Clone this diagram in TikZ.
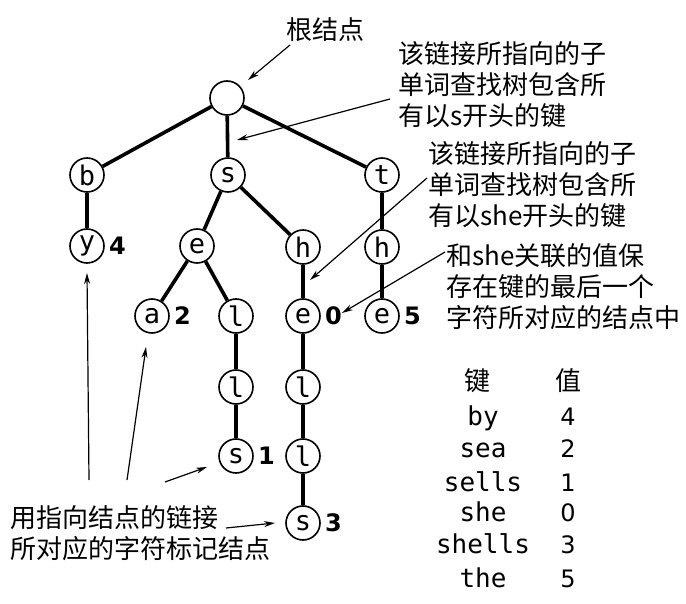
\documentclass[tikz,border=0pt]{standalone}
\usepackage{fontspec}
\setsansfont{DejaVu Sans}
\setmonofont{DejaVu Sans Mono}
\newfontfamily\cjk{Noto Sans CJK SC}
\usetikzlibrary{arrows.meta, positioning}

\begin{document}
\begin{tikzpicture}[
    x=0.5pt, y=-0.5pt,
    chr/.style={draw, circle, line width=0.8pt, fill=white, minimum size=17pt,
                inner sep=0pt, font=\ttfamily\fontsize{13.5}{13.5}\selectfont},
    num/.style={inner sep=0pt, font=\sffamily\bfseries\fontsize{12}{12}\selectfont},
    link/.style={line width=1.8pt},
    note/.style={inner sep=0pt, align=left, font=\cjk\fontsize{13}{15.5}\selectfont},
    arr/.style={-{Stealth[length=5.5pt, width=3pt]}, line width=0.6pt},
    hdr/.style={anchor=base, inner sep=0pt, font=\cjk\fontsize{13}{13}\selectfont},
    key/.style={anchor=base, inner sep=0pt, font=\ttfamily\fontsize{13}{13}\selectfont},
    val/.style={anchor=base, inner sep=0pt, font=\sffamily\fontsize{12}{12}\selectfont}
]
    \useasboundingbox (0,0) rectangle (686,604);

    % trie nodes
    \node[chr] (root)   at (227,98)  {};
    \node[chr] (b)      at (87,175)  {b};
    \node[chr] (s)      at (228,175) {s};
    \node[chr] (t)      at (382,175) {t};
    \node[chr] (by)     at (87,246)  {y};
    \node[chr] (se)     at (197,246) {e};
    \node[chr] (sh)     at (303,247) {h};
    \node[chr] (th)     at (382,247) {h};
    \node[chr] (sea)    at (152,316) {a};
    \node[chr] (sel)    at (236,316) {l};
    \node[chr] (she)    at (303,316) {e};
    \node[chr] (the)    at (382,316) {e};
    \node[chr] (sell)   at (236,387) {l};
    \node[chr] (shel)   at (303,387) {l};
    \node[chr] (sells)  at (236,456) {s};
    \node[chr] (shell)  at (303,456) {l};
    \node[chr] (shells) at (303,523) {s};

    % values stored in the nodes
    \node[num, right=2pt of by]     (val-by)     {4};
    \node[num, right=2pt of sea]    (val-sea)    {2};
    \node[num, right=2pt of sells]  (val-sells)  {1};
    \node[num, right=2pt of she]    (val-she)    {0};
    \node[num, right=2pt of shells] (val-shells) {3};
    \node[num, right=2pt of the]    (val-the)    {5};

    % links
    \draw[link] (root) -- (b);
    \draw[link] (root) -- (s);
    \draw[link] (root) -- (t);
    \draw[link] (b)    -- (by);
    \draw[link] (s)    -- (se);
    \draw[link] (s)    -- (sh);
    \draw[link] (t)    -- (th);
    \draw[link] (se)   -- (sea);
    \draw[link] (se)   -- (sel);
    \draw[link] (sh)   -- (she);
    \draw[link] (th)   -- (the);
    \draw[link] (sel)  -- (sell);
    \draw[link] (she)  -- (shel);
    \draw[link] (sell) -- (sells);
    \draw[link] (shel) -- (shell);
    \draw[link] (shell) -- (shells);

    % annotations
    \node[note] (n-root) at (325,30) {根结点};
    \node[note, anchor=north west] (n-s)   at (398,41)  {该链接所指向的子\\单词查找树包含所\\有以s开头的键};
    \node[note, anchor=north west] (n-she) at (428,141) {该链接所指向的子\\单词查找树包含所\\有以she开头的键};
    \node[note, anchor=north west] (n-val) at (446,243) {和she关联的值保\\存在键的最后一个\\字符所对应的结点中};
    \node[note, anchor=north west] (n-chr) at (10,505)  {用指向结点的链接\\所对应的字符标记结点};

    \coordinate (a1s) at (290,45);  \coordinate (a1e) at (248,80);
    \coordinate (a2s) at (390,99);  \coordinate (a2e) at (237,140);
    \coordinate (a3s) at (427,178); \coordinate (a3e) at (310,280);
    \coordinate (a4s) at (445,252); \coordinate (a4e) at (342,313);
    \coordinate (b1s) at (89,480);  \coordinate (b1e) at (87,273);
    \coordinate (b2s) at (127,480); \coordinate (b2e) at (146,347);
    \coordinate (b3s) at (165,482); \coordinate (b3e) at (207,467);
    \coordinate (b4s) at (226,528); \coordinate (b4e) at (275,523);

    \draw[arr] (a1s) -- (a1e);
    \draw[arr] (a2s) -- (a2e);
    \draw[arr] (a3s) -- (a3e);
    \draw[arr] (a4s) -- (a4e);
    \draw[arr] (b1s) -- (b1e);
    \draw[arr] (b2s) -- (b2e);
    \draw[arr] (b3s) -- (b3e);
    \draw[arr] (b4s) -- (b4e);

    % key / value table
    \node[hdr] (h-key) at (477,391) {键};
    \node[hdr] (h-val) at (568,391) {值};
    \node[key] (k-by)     at (483,425) {by};
    \node[val] (v-by)     at (568,425) {4};
    \node[key] (k-sea)    at (483,458) {sea};
    \node[val] (v-sea)    at (568,458) {2};
    \node[key] (k-sells)  at (483,491) {sells};
    \node[val] (v-sells)  at (568,491) {1};
    \node[key] (k-she)    at (483,522) {she};
    \node[val] (v-she)    at (568,522) {0};
    \node[key] (k-shells) at (483,553) {shells};
    \node[val] (v-shells) at (568,553) {3};
    \node[key] (k-the)    at (483,587) {the};
    \node[val] (v-the)    at (568,587) {5};
\end{tikzpicture}
\end{document}
